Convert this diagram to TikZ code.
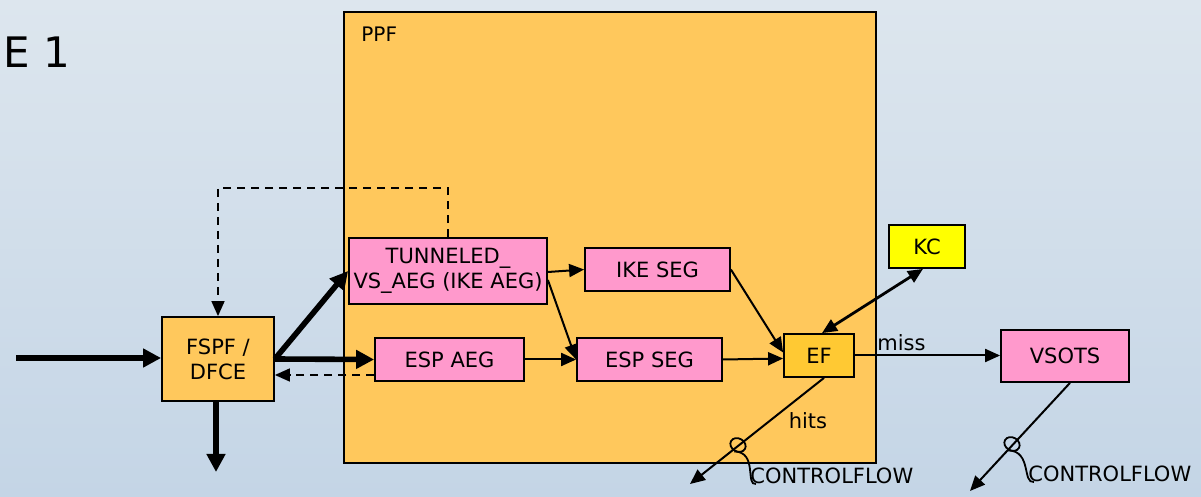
\documentclass[tikz,border=0pt]{standalone}
\usepackage{fontspec}
\setmainfont{DejaVu Sans}
\usetikzlibrary{arrows.meta, positioning, calc, shapes.geometric}
\definecolor{bgtop}{HTML}{DDE6EE}
\definecolor{bgbottom}{HTML}{C4D5E6}
\definecolor{ppforange}{HTML}{FFC85C}
\definecolor{segpink}{HTML}{FF99CC}
\definecolor{efgold}{HTML}{FFC933}
\definecolor{kcyellow}{HTML}{FFFF00}
\newcommand{\boxfont}{\fontsize{10.5}{12.5}\selectfont}

\begin{document}
\begin{tikzpicture}[
      x=0.5pt, y=-0.5pt,
      blk/.style={draw, line width=0.9pt, inner sep=0pt, align=center,
        font=\boxfont},
      segblk/.style={blk, fill=segpink, minimum width=72.5pt,
        minimum height=21.5pt},
      lbl/.style={inner sep=0pt, font=\boxfont},
      flow/.style={-{Triangle[length=7.5pt,width=6.5pt]}, line width=1pt},
      bigflow/.style={-{Triangle[length=9pt,width=9pt]}, line width=2.8pt},
      fback/.style={-{Triangle[length=7.5pt,width=6.5pt]}, line width=0.8pt,
        dash pattern=on 4pt off 3pt},
      ring/.style={draw, ellipse, minimum width=8pt, minimum height=6.5pt,
        inner sep=0pt, line width=0.9pt, rotate=-30}
    ]
      \useasboundingbox (0,0) rectangle (1201,497);
      \fill[top color=bgtop, bottom color=bgbottom] (0,0) rectangle (1201,497);

      \node[anchor=west, inner sep=0pt, font=\fontsize{21}{24}\selectfont]
        (title) at (3,52) {E 1};

      % PPF container
      \node[blk, fill=ppforange, minimum width=266pt, minimum height=225.5pt]
        (ppf) at (610,237.5) {};
      \node[lbl, anchor=west, font=\fontsize{10}{12}\selectfont]
        (ppflabel) at (361,34) {PPF};

      \node[blk, fill=ppforange, minimum width=56pt, minimum height=42pt]
        (fspf) at (218,359) {FSPF /\\DFCE};
      \node[blk, fill=segpink, minimum width=99pt, minimum height=33pt]
        (tun) at (448,271) {TUNNELED\_\\VS\_AEG (IKE AEG)};
      \node[segblk, minimum width=74.5pt] (espaeg) at (449.5,359.5) {ESP AEG};
      \node[segblk] (ikeseg) at (657.5,269.5) {IKE SEG};
      \node[segblk] (espseg) at (649.5,359.5) {ESP SEG};
      \node[blk, fill=efgold, minimum width=35pt, minimum height=21.5pt]
        (ef) at (819,355.5) {EF};
      \node[blk, fill=kcyellow, minimum width=38pt, minimum height=21.5pt]
        (kc) at (927,246.5) {KC};
      \node[blk, fill=segpink, minimum width=64pt, minimum height=26pt]
        (vsots) at (1065,356) {VSOTS};

      \coordinate (in) at (16,358);
      \coordinate (out) at (216,472);
      \coordinate (hitsend) at (690,484);
      \coordinate (vsend) at (970,491);

      % thick flows
      \draw[bigflow] (in) -- (fspf.west |- in);
      \draw[bigflow] (fspf.south -| out) -- (out);
      \draw[bigflow] (fspf.east) -- (tun.west);
      \draw[bigflow] (fspf.east) -- (espaeg.west);

      % dashed feedback
      \draw[fback] (espaeg.west |- 0,375) -- (fspf.east |- 0,375);
      \draw[fback] (tun.north) -- (tun.north |- 0,188) -| (fspf.north);

      % thin flows
      \draw[flow] ([yshift=-0.5pt]tun.east) -- (ikeseg.west);
      \draw[flow] ([yshift=-4.5pt]tun.east) -- (espseg.west);
      \draw[flow] (espaeg.east) -- (espseg.west);
      \draw[flow] (ikeseg.east) -- ([yshift=1.5pt]ef.west);
      \draw[flow] (espseg.east) -- ([yshift=-1.5pt]ef.west);
      \draw[flow, line width=1.4pt,
        {Triangle[length=7.5pt,width=6.5pt]}-{Triangle[length=7.5pt,width=6.5pt]}]
        ([xshift=1.5pt]ef.north) -- ([xshift=-2pt]kc.south);
      \draw[flow] (ef.east) -- (vsots.west |- ef.east);
      \node[lbl, anchor=south west] (miss) at (877,351) {miss};
      \draw[flow] ([xshift=2.5pt]ef.south) -- (hitsend);
      \draw[flow] ([xshift=2.5pt]vsots.south) -- (vsend);
      \node[lbl] (hits) at (808,421) {hits};

      % controlflow markers
      \node[ring] (ring1) at (738,445) {};
      \node[ring] (ring2) at (1012,444) {};
      \node[lbl, anchor=west] (cf1) at (750,476) {CONTROLFLOW};
      \node[lbl, anchor=west] (cf2) at (1028,474) {CONTROLFLOW};
      \draw[line width=0.9pt] (ring1.south) .. controls (758,452)
        and (745,486) .. ([xshift=3pt,yshift=-4pt]cf1.west);
      \draw[line width=0.9pt] (ring2.south) .. controls (1032,451)
        and (1022,484) .. ([xshift=3pt,yshift=-4pt]cf2.west);
    \end{tikzpicture}
\end{document}
